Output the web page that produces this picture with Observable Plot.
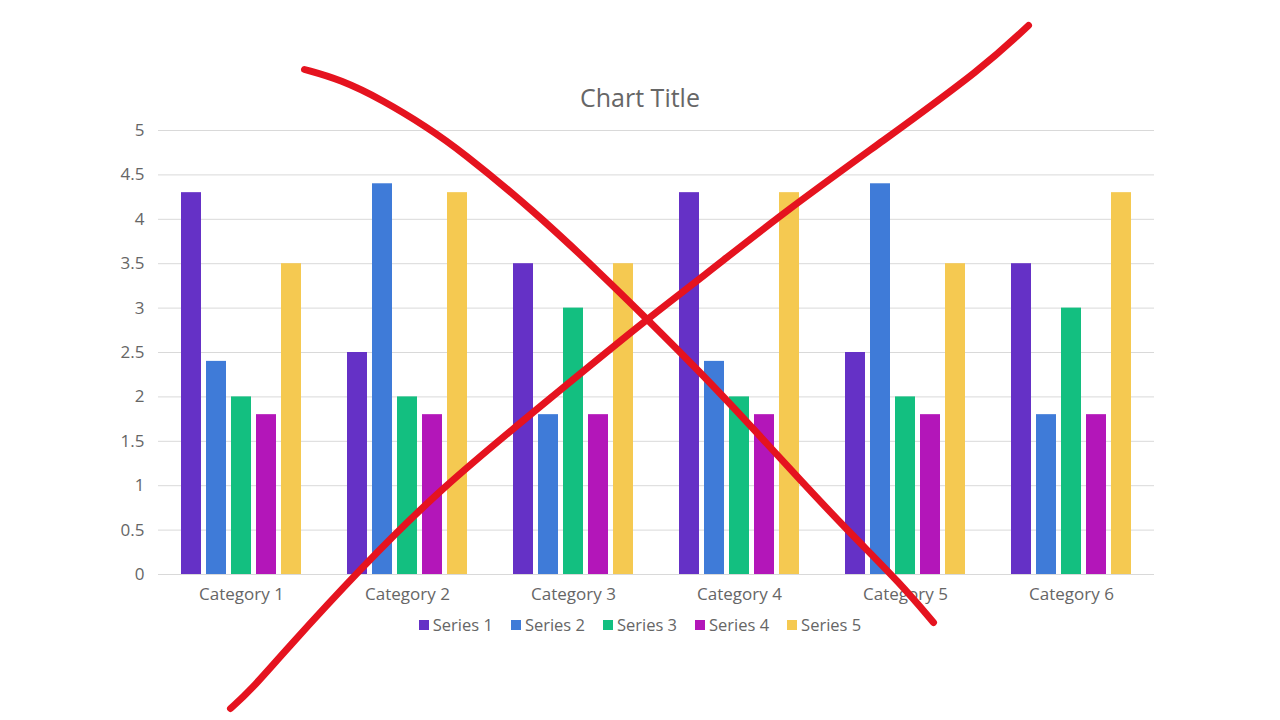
<!DOCTYPE html>
<html><head><meta charset="utf-8">
<script src="https://cdn.jsdelivr.net/npm/d3@7"></script>
<script src="https://cdn.jsdelivr.net/npm/@observablehq/plot@0.6"></script>
<style>
body{margin:0;background:#fff;font-family:"Open Sans",sans-serif;}
#wrap{position:relative;width:1280px;height:720px;overflow:hidden;background:#fff;}
#title{position:absolute;top:80px;left:0;width:1280px;text-align:center;font-size:25px;color:#666666;line-height:34px;}
#chart{position:absolute;top:110px;left:0;}
#legend{position:absolute;top:613px;left:0;width:1280px;display:flex;justify-content:center;gap:18px;font-size:16.5px;color:#666666;line-height:24px;}
#legend .item{display:flex;align-items:center;}
#legend .sw{width:10px;height:10px;margin-right:4px;}
#overlay{position:absolute;top:0;left:0;pointer-events:none;}
</style>
</head><body>
<div id="wrap">
  <div id="title">Chart Title</div>
  <div id="chart"></div>
  <div id="legend"></div>
  <div id="overlay"></div>
</div>
<script>
const categories = ["Category 1","Category 2","Category 3","Category 4","Category 5","Category 6"];
const seriesNames = ["Series 1","Series 2","Series 3","Series 4","Series 5"];
const series1 = [4.3, 2.5, 3.5, 4.3, 2.5, 3.5];
const series2 = [2.4, 4.4, 1.8, 2.4, 4.4, 1.8];
const series3 = [2.0, 2.0, 3.0, 2.0, 2.0, 3.0];
const series4 = [1.8, 1.8, 1.8, 1.8, 1.8, 1.8];
const series5 = [3.5, 4.3, 3.5, 4.3, 3.5, 4.3];
const seriesColors = ["#6531C6","#3F7BD8","#13BF80","#B316B9","#F5C951"];
const yTicks = [0, 0.5, 1, 1.5, 2, 2.5, 3, 3.5, 4, 4.5, 5];

// hand-drawn red cross-out strokes (page pixel space)
const strokeA = [[304,69],[304,69],[340,79],[383,100],[427,127],[460,150],[533,210],[600,273],[647,319],[700,372],[750,425],[800,480],[850,533],[900,583],[933,622],[933,622]];
const strokeB = [[230,708],[230,708],[250,690],[283,652],[360,568],[440,488],[547,400],[647,318],[700,278],[783,212],[883,140],[983,67],[1028,25],[1028,25]];

const allSeries = [series1, series2, series3, series4, series5];
const table = categories.flatMap((c, i) => seriesNames.map((s, j) => ({category: c, series: s, value: allSeries[j][i]})));

const chart = Plot.plot({
  width: 1280,
  height: 500,
  marginLeft: 158,
  marginRight: 126,
  marginTop: 20,
  marginBottom: 36,
  style: {fontFamily: "Open Sans", fontSize: "17px", color: "#666666", background: "transparent"},
  fx: {domain: categories, padding: 0, label: null},
  x: {domain: seriesNames, paddingInner: 0.2, paddingOuter: 0.85, axis: null},
  y: {domain: [0, 5], label: null},
  color: {domain: seriesNames, range: seriesColors},
  marks: [
    Plot.ruleY(yTicks, {stroke: "#d9d9d9", strokeWidth: 1}),
    Plot.barY(table, {fx: "category", x: "series", y: "value", fill: "series"}),
    Plot.axisY({ticks: yTicks, tickSize: 0, tickPadding: 14, label: null, tickFormat: d => String(d), fill: "#666666", fontSize: 17}),
    Plot.axisFx({anchor: "bottom", tickSize: 0, tickPadding: 13, label: null, fill: "#666666", fontSize: 17})
  ]
});
document.getElementById("chart").appendChild(chart);

const legend = document.getElementById("legend");
seriesNames.forEach((s, i) => {
  const it = document.createElement("div");
  it.className = "item";
  const sw = document.createElement("span");
  sw.className = "sw";
  sw.style.background = seriesColors[i];
  const tx = document.createElement("span");
  tx.textContent = s;
  it.appendChild(sw); it.appendChild(tx);
  legend.appendChild(it);
});

const overlay = Plot.plot({
  width: 1280,
  height: 720,
  margin: 0,
  style: {background: "transparent"},
  x: {domain: [0, 1280], range: [0, 1280], axis: null},
  y: {domain: [0, 720], range: [0, 720], axis: null},
  marks: [
    Plot.line(strokeA, {x: d => d[0], y: d => d[1], stroke: "#E5131F", strokeWidth: 7, curve: "basis", strokeLinecap: "round", strokeLinejoin: "round"}),
    Plot.line(strokeB, {x: d => d[0], y: d => d[1], stroke: "#E5131F", strokeWidth: 7, curve: "basis", strokeLinecap: "round", strokeLinejoin: "round"})
  ]
});
document.getElementById("overlay").appendChild(overlay);
</script>
</body></html>
